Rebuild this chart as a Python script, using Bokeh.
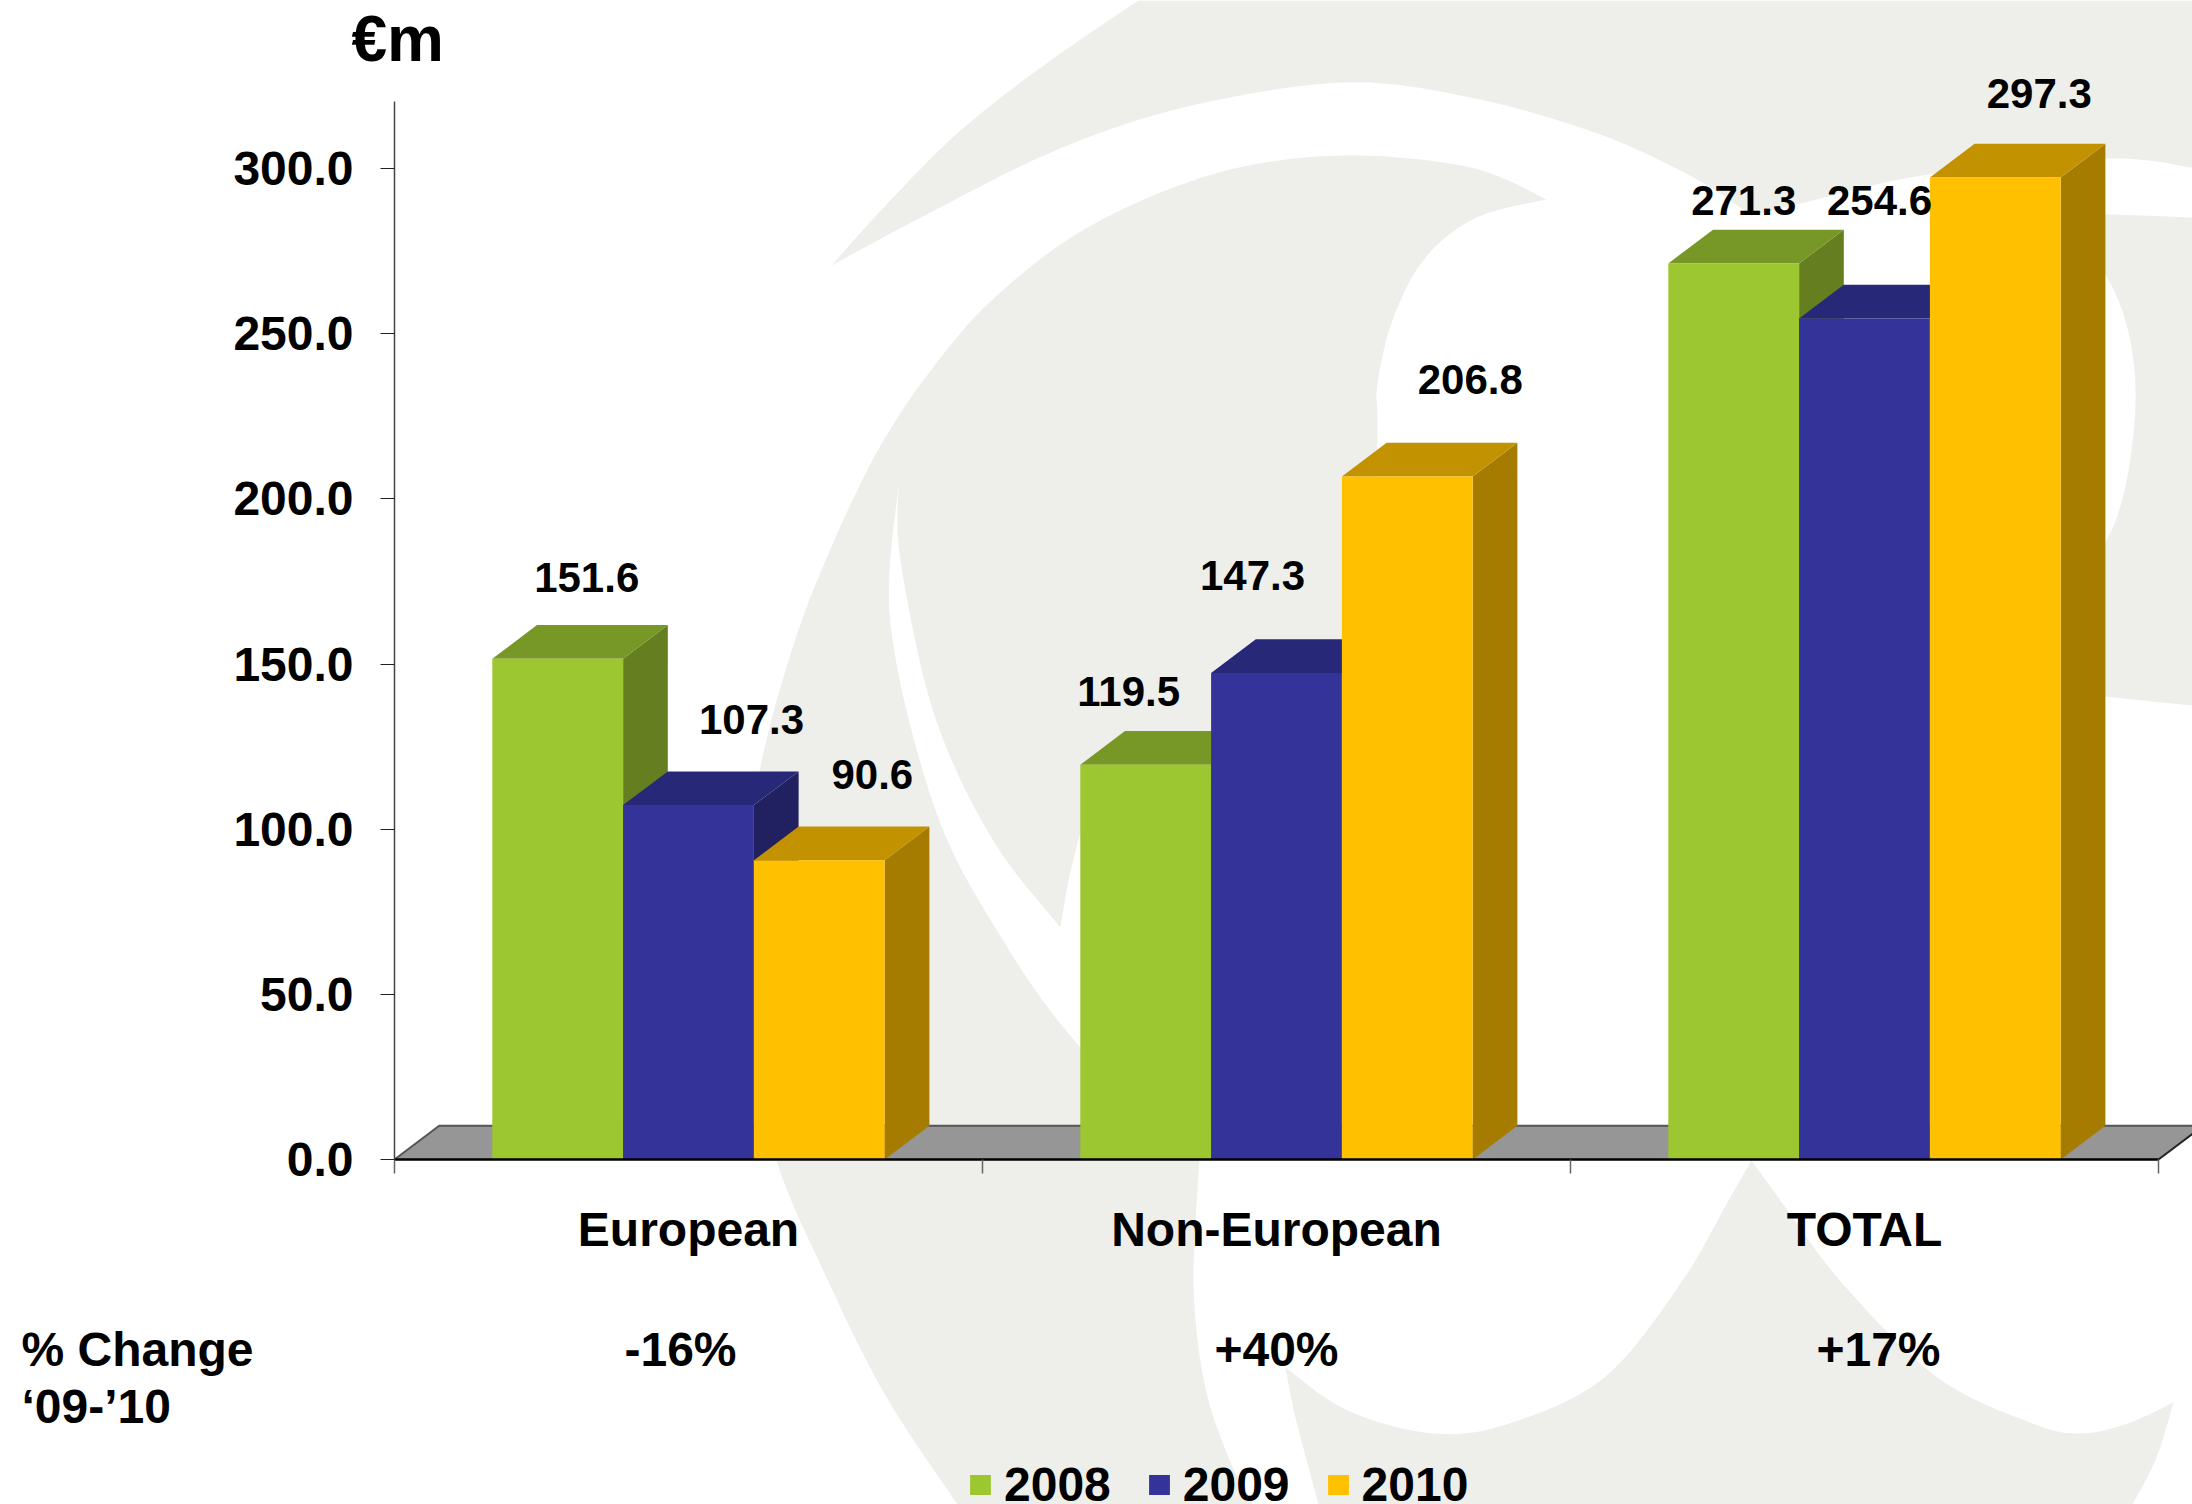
from bokeh.plotting import figure
from bokeh.models import (ColumnDataSource, Range1d, LinearAxis, FixedTicker, NumeralTickFormatter,
                          Legend, LegendItem)
from bokeh.core.properties import value
from bokeh.embed import file_html
from bokeh.resources import INLINE

# ---------- data ----------
categories = ["European", "Non-European", "TOTAL"]
years = ["2008", "2009", "2010"]
values_2008 = [151.6, 119.5, 271.3]
values_2009 = [107.3, 147.3, 254.6]
values_2010 = [90.6, 206.8, 297.3]
pct_change = ["-16%", "+40%", "+17%"]
y_ticks = [0, 50, 100, 150, 200, 250, 300]

# ---------- layout / style ----------
FONT = value("Liberation Sans")
PX_PER_CAT = 588.0
PX_PER_UNIT = 3.303
X0_PX, Y0_PX = 394.0, 1159.0
BASE_FIX = -0.36  # em, brings Bokeh's alphabetic text position onto the baseline


def dx(px):
    return (px - X0_PX) / PX_PER_CAT


def dy(py):
    return (Y0_PX - py) / PX_PER_UNIT


BAR_W = 130.8 / PX_PER_CAT
DEPTH_X = 44.7 / PX_PER_CAT
DEPTH_Y = 33.7 / PX_PER_UNIT
FRONT = ["#9CC731", "#333399", "#FFC000"]
TOP = ["#779726", "#282878", "#C29200"]
SIDE = ["#657E1F", "#212060", "#A67C00"]
WATERMARK = "#EEEFEA"
# manual data-label offsets, px from the top-centre of each bar's front face
LABEL_DX = [[29, -17, 10], [63, -24, 15], [53, 63, 44]]
LABEL_DY = [[-66, -58, -48], [-70.6, -82, -103], [-71, -82, -69]]

p = figure(width=2192, height=1504, output_backend="svg", toolbar_location=None,
           x_axis_type=None, y_axis_type=None, min_border=0,
           x_range=Range1d(dx(0), dx(2192)), y_range=Range1d(dy(1504), dy(0)))
p.grid.visible = False
p.outline_line_color = None
p.background_fill_color = "#FFFFFF"
p.border_fill_color = "#FFFFFF"


def curve(points, n=10):
    """Catmull-Rom smoothing of a page-pixel outline segment."""
    pts = [points[0]] + list(points) + [points[-1]]
    out = []
    for i in range(1, len(pts) - 2):
        p0, p1, p2, p3 = pts[i - 1], pts[i], pts[i + 1], pts[i + 2]
        for k in range(n):
            t = k / n
            out.append(tuple(
                0.5 * (2 * p1[c] + (p2[c] - p0[c]) * t + (2 * p0[c] - 5 * p1[c] + 4 * p2[c] - p3[c]) * t * t
                       + (3 * p1[c] - p0[c] - 3 * p2[c] + p3[c]) * t ** 3) for c in (0, 1)))
    out.append(points[-1])
    return out


def watermark(*segments):
    pts = []
    for s in segments:
        pts += curve(s)
    p.patch([dx(a) for a, _ in pts], [dy(b) for _, b in pts], fill_color=WATERMARK, line_color=None)


# top crescent
watermark([(831, 265), (885, 205), (960, 130), (1050, 60), (1138, 0)],
          [(1138, 0), (2192, 0)],
          [(2192, 0), (2192, 167)],
          [(2192, 167), (2105, 158), (1928, 174), (1800, 203), (1751, 215)],
          [(1751, 215), (1693, 177), (1597, 133), (1470, 97), (1342, 82), (1183, 107), (1055, 150), (928, 213), (831, 265)])
# main swirl
watermark([(1546, 199), (1476, 217), (1425, 257), (1393, 317), (1377, 383), (1377, 433), (1372, 560), (1345, 700)],
          [(1345, 700), (1200, 790), (1079, 835)],
          [(1079, 835), (1068, 880), (1060, 927)],
          [(1060, 927), (992, 839), (934, 715), (900, 560), (898, 484)],
          [(898, 484), (890, 624), (934, 807), (997, 931), (1079, 1046), (1199, 1160)],
          [(1199, 1160), (1193, 1283), (1204, 1383), (1228, 1457), (1252, 1504)],
          [(1252, 1504), (957, 1504)],
          [(957, 1504), (885, 1395), (825, 1275), (776, 1160), (755, 1050), (750, 900), (755, 800), (767, 735),
           (785, 670), (803, 615), (825, 560), (851, 502), (883, 440), (928, 373), (991, 300), (1087, 227),
           (1215, 173), (1342, 155), (1470, 167), (1546, 199)])
# right-hand band
watermark([(2060, 212), (2192, 217)],
          [(2192, 217), (2192, 705)],
          [(2192, 705), (2105, 696), (2070, 690)],
          [(2070, 690), (2090, 580), (2117, 515), (2130, 457), (2135, 390), (2127, 328), (2105, 274), (2060, 212)])
# lower waves
watermark([(1285, 1367), (1295, 1417), (1318, 1504)],
          [(1318, 1504), (2132, 1504)],
          [(2132, 1504), (2156, 1457), (2173, 1402)],
          [(2173, 1402), (2127, 1423), (2080, 1433), (2032, 1423), (1937, 1377), (1842, 1283), (1775, 1193), (1751, 1160)],
          [(1751, 1160), (1728, 1200), (1680, 1283), (1604, 1377), (1509, 1423), (1433, 1433), (1347, 1410), (1285, 1367)])

# floor
n_cat = len(categories)
p.patch([0, DEPTH_X, n_cat + DEPTH_X, n_cat], [0, DEPTH_Y, DEPTH_Y, 0], fill_color="#969696", line_color=None)
p.line([0, DEPTH_X, n_cat + DEPTH_X], [0, DEPTH_Y, DEPTH_Y], line_color="#555555", line_width=2)
p.line([n_cat, n_cat + DEPTH_X], [0, DEPTH_Y], line_color="#222222", line_width=2)

# bars
series = [values_2008, values_2009, values_2010]
fronts = []
for j, vals in enumerate(series):
    xc = [i + 0.5 + (j - 1) * BAR_W for i in range(n_cat)]
    left = [x - BAR_W / 2 for x in xc]
    right = [x + BAR_W / 2 for x in xc]
    p.patches([[r, r + DEPTH_X, r + DEPTH_X, r] for r in right],
              [[0, DEPTH_Y, v + DEPTH_Y, v] for v in vals],
              fill_color=SIDE[j], line_color=None)
    p.patches([[l, l + DEPTH_X, r + DEPTH_X, r] for l, r in zip(left, right)],
              [[v, v + DEPTH_Y, v + DEPTH_Y, v] for v in vals],
              fill_color=TOP[j], line_color=None)
    src = ColumnDataSource(dict(x=xc, top=vals))
    fronts.append(p.vbar(x="x", top="top", bottom=0, width=BAR_W, source=src,
                         fill_color=FRONT[j], line_color=None))

# axes
yaxis = LinearAxis(fixed_location=0, bounds=(0, dy(100.7)),
                   ticker=FixedTicker(ticks=y_ticks), formatter=NumeralTickFormatter(format="0.0"),
                   major_tick_in=0, major_tick_out=14, minor_tick_line_color=None,
                   axis_line_color="#444444", axis_line_width=1.5, major_tick_line_color="#222222",
                   major_tick_line_width=1, major_label_standoff=27,
                   major_label_text_font="Liberation Sans", major_label_text_font_style="bold",
                   major_label_text_font_size="48px", major_label_text_color="#000000")
p.add_layout(yaxis, "left")

xaxis = LinearAxis(fixed_location=0, bounds=(0, n_cat),
                   ticker=FixedTicker(ticks=[i + 0.5 for i in range(n_cat)], minor_ticks=list(range(n_cat + 1))),
                   major_label_overrides={i + 0.5: c for i, c in enumerate(categories)},
                   major_tick_line_color=None, major_tick_in=0, major_tick_out=0,
                   minor_tick_in=0, minor_tick_out=14, minor_tick_line_color="#666666", minor_tick_line_width=1.5,
                   axis_line_color="#000000", axis_line_width=2.5, major_label_standoff=29,
                   major_label_text_font="Liberation Sans", major_label_text_font_style="bold",
                   major_label_text_font_size="48px", major_label_text_color="#000000")
p.add_layout(xaxis, "below")

# data labels
for j, vals in enumerate(series):
    src = ColumnDataSource(dict(x=[i + 0.5 + (j - 1) * BAR_W for i in range(n_cat)], y=vals,
                                t=[f"{v:.1f}" for v in vals], ox=LABEL_DX[j],
                                oy=[o + BASE_FIX * 42 for o in LABEL_DY[j]]))
    p.text(x="x", y="y", text="t", x_offset="ox", y_offset="oy", source=src, text_font=FONT,
           text_font_style="bold", text_font_size="42px", text_color="#000000",
           text_align="center", text_baseline="alphabetic")

# unit, % change row
p.text(x=[dx(351)], y=[dy(61.5)], text=["€m"], y_offset=BASE_FIX * 64, text_font=FONT, text_font_style="bold",
       text_font_size="64px", text_color="#000000", text_align="left", text_baseline="alphabetic")
p.text(x=[dx(21), dx(21)], y=[dy(1366), dy(1423)], text=["% Change", "‘09-’10"], y_offset=BASE_FIX * 48, text_font=FONT,
       text_font_style="bold", text_font_size="48px", text_color="#000000", text_align="left",
       text_baseline="alphabetic")
p.text(x=[dx(680), dx(1276), dx(1878)], y=[dy(1366)] * 3, text=pct_change, y_offset=BASE_FIX * 48, text_font=FONT,
       text_font_style="bold", text_font_size="48px", text_color="#000000", text_align="center",
       text_baseline="alphabetic")

# legend
legend = Legend(items=[LegendItem(label=value(y), renderers=[r]) for y, r in zip(years, fronts)],
                orientation="horizontal", location=(967, -8), border_line_color=None,
                background_fill_alpha=0, padding=0, margin=0, spacing=35,
                glyph_width=26, glyph_height=25, label_standoff=11, label_height=30,
                label_text_font="Liberation Sans", label_text_font_style="bold", label_text_font_size="48px",
                label_text_color="#000000")
p.add_layout(legend, "center")

open("out.html", "w").write(file_html(p, INLINE))
